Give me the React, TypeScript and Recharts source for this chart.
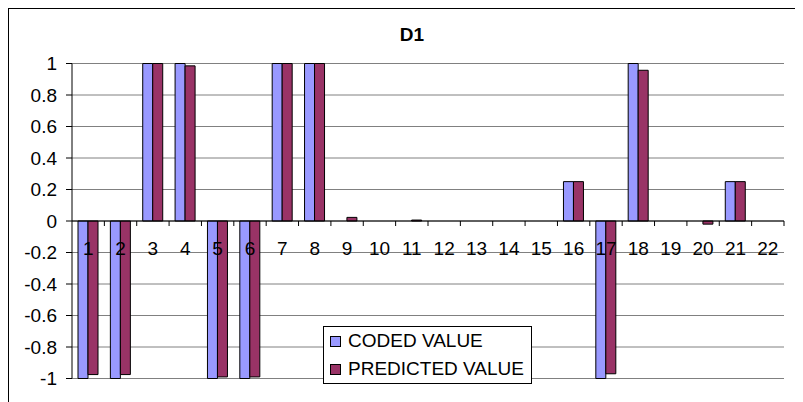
import { Bar, BarChart, CartesianGrid, Legend, ReferenceLine, XAxis, YAxis } from "recharts";

// Case numbers along the category axis
const CASES = ["1", "2", "3", "4", "5", "6", "7", "8", "9", "10", "11", "12", "13", "14", "15", "16", "17", "18", "19", "20", "21", "22"];
const CODED = [-1, -1, 1, 1, -1, -1, 1, 1, 0, 0, 0, 0, 0, 0, 0, 0.25, -1, 1, 0, 0, 0.25, 0];
const PREDICTED = [-0.975, -0.975, 1, 0.985, -0.99, -0.99, 1, 1, 0.023, 0, 0.006, 0, 0, 0, 0, 0.25, -0.97, 0.957, 0, -0.02, 0.25, 0];
const Y_TICKS = [-1, -0.8, -0.6, -0.4, -0.2, 0, 0.2, 0.4, 0.6, 0.8, 1];

const data = CASES.map((c, i) => ({ name: c, coded: CODED[i], predicted: PREDICTED[i] }));

const W = 794;
const H = 393;
const X_AXIS_H = 23;
const MARGIN = { top: 54.5, right: 19, bottom: 0.5, left: 0 };
const PLOT_H = H - MARGIN.top - MARGIN.bottom - X_AXIS_H;
const ZERO_Y = MARGIN.top + PLOT_H / 2;
const BAND = (W - 63 - MARGIN.right) / CASES.length;
const FONT = "'Liberation Sans', Arial, sans-serif";
const FS = 19;

// category labels and tick marks sit on the zero line, Excel style
function CaseTick(props: any) {
  const { x, payload } = props;
  return (
    <g>
      <line x1={x + BAND / 2} x2={x + BAND / 2} y1={ZERO_Y} y2={ZERO_Y + 5} stroke="#000" />
      <text x={x} y={ZERO_Y + 34} textAnchor="middle" fontSize={FS} fontFamily={FONT} fill="#000">
        {payload.value}
      </text>
    </g>
  );
}

function LegendBox() {
  const row = (color: string, label: string) => (
    <div style={{ display: "flex", alignItems: "center", height: 28 }}>
      <span style={{ width: 9, height: 9, background: color, border: "1px solid #000", marginRight: 7 }} />
      <span>{label}</span>
    </div>
  );
  return (
    <div
      style={{
        width: 201,
        height: 56,
        border: "1px solid #000",
        background: "#fff",
        fontFamily: FONT,
        fontSize: FS,
        color: "#000",
        paddingLeft: 6,
        boxSizing: "content-box",
        whiteSpace: "nowrap",
      }}
    >
      {row("#9999FF", "CODED VALUE")}
      {row("#993366", "PREDICTED VALUE")}
    </div>
  );
}

export default function App() {
  return (
    <div
      style={{
        position: "relative",
        width: 795,
        height: 394,
        borderTop: "1px solid #000",
        borderLeft: "1px solid #000",
        boxSizing: "border-box",
        background: "#fff",
      }}
    >
      <div
        style={{
          position: "absolute",
          left: 353,
          top: 16,
          width: 100,
          textAlign: "center",
          fontFamily: FONT,
          fontWeight: 700,
          fontSize: FS,
          lineHeight: "20px",
        }}
      >
        D1
      </div>
      <BarChart width={W} height={H} data={data} margin={MARGIN} barGap={0} barSize={10}>
        <CartesianGrid vertical={false} stroke="#808080" />
        <YAxis
          type="number"
          domain={[-1, 1]}
          ticks={Y_TICKS}
          interval={0}
          width={63}
          tickSize={6}
          tickMargin={9}
          axisLine={{ stroke: "#000" }}
          tickLine={{ stroke: "#000" }}
          tick={{ fontSize: FS, fontFamily: FONT, fill: "#000" }}
        />
        <YAxis
          yAxisId="frame"
          orientation="right"
          width={0}
          tick={false}
          tickLine={false}
          axisLine={{ stroke: "#a6a6a6", strokeWidth: 2 }}
        />
        <ReferenceLine y={0} stroke="#000" />
        <Bar dataKey="coded" name="CODED VALUE" fill="#9999FF" stroke="#000" strokeWidth={1} isAnimationActive={false} />
        <Bar dataKey="predicted" name="PREDICTED VALUE" fill="#993366" stroke="#000" strokeWidth={1} isAnimationActive={false} />
        <XAxis
          dataKey="name"
          height={X_AXIS_H}
          axisLine={false}
          tickLine={false}
          interval={0}
          tick={(p: any) => <CaseTick {...p} />}
        />
        <Legend
          layout="horizontal"
          verticalAlign="middle"
          align="center"
          content={() => <LegendBox />}
          wrapperStyle={{ position: "absolute", left: 314, top: 317, width: "auto" }}
        />
      </BarChart>
    </div>
  );
}
